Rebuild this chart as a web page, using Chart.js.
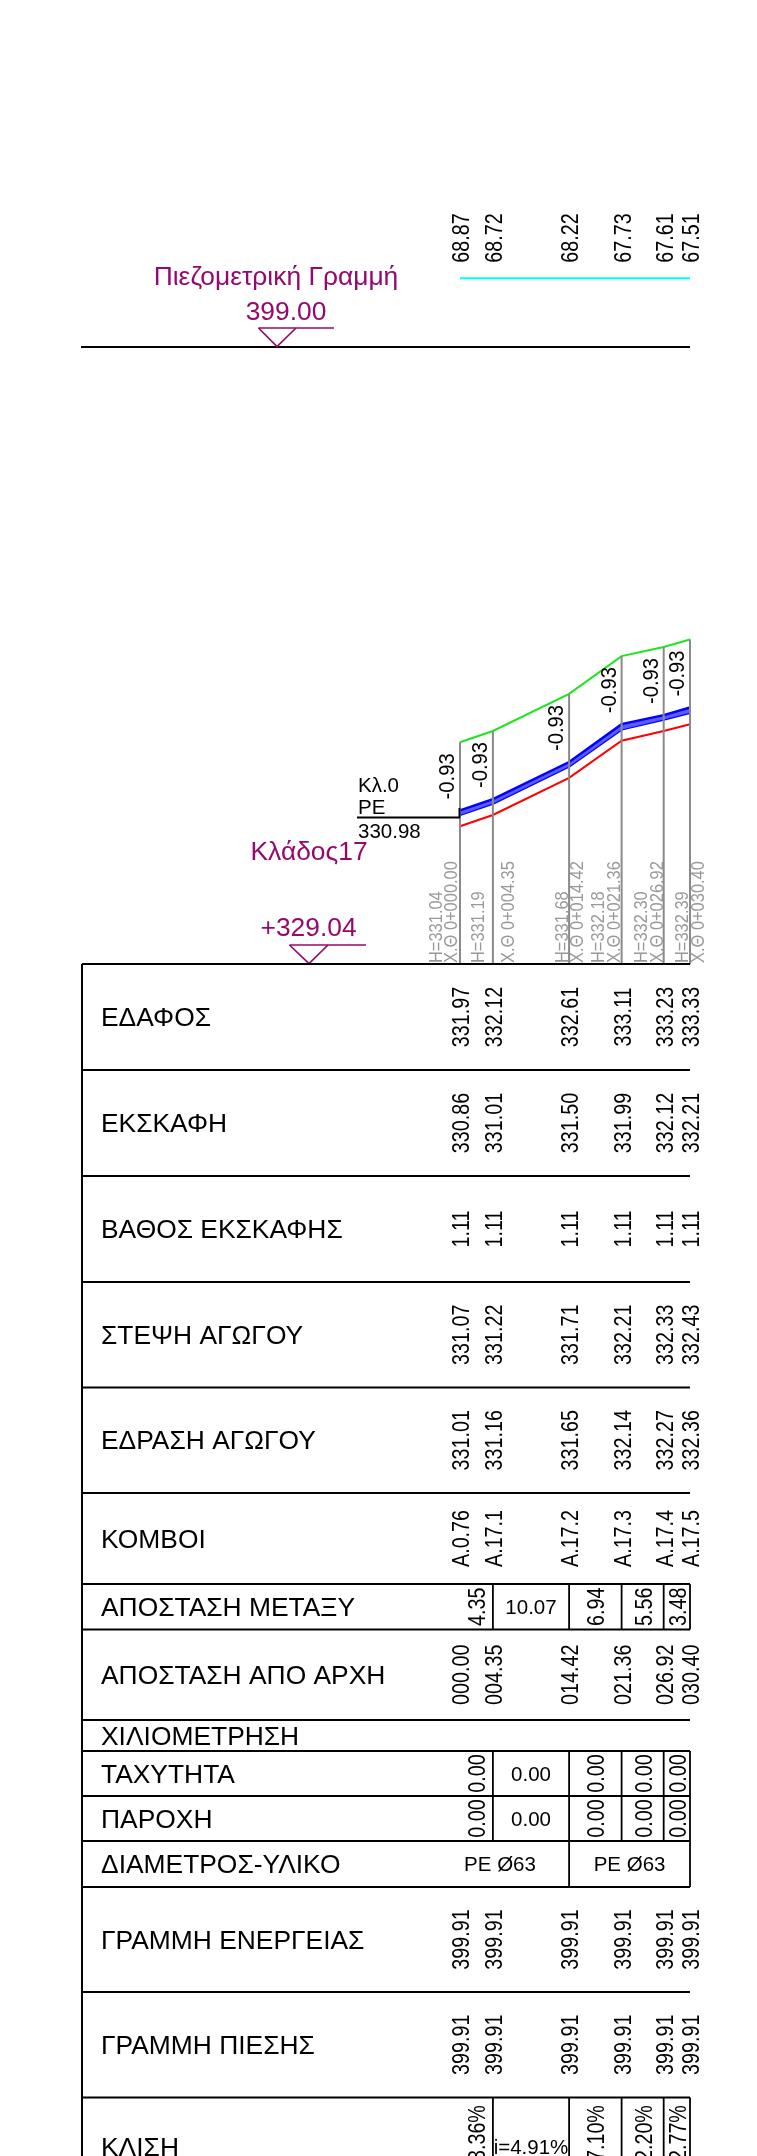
<!DOCTYPE html>
<html>
<head>
<meta charset="utf-8">
<title>Κλάδος17</title>
<script src="https://cdn.jsdelivr.net/npm/chart.js@4"></script>
<style>
  html, body { margin: 0; padding: 0; background: #fff; overflow: hidden; }
  #wrap { position: relative; width: 757px; height: 2156px; }
  canvas { display: block; }
</style>
</head>
<body>
<div id="wrap"><canvas id="profile" width="757" height="2156"></canvas></div>
<script>
// stations along the branch
const chainage = [0, 4.35, 14.42, 21.36, 26.92, 30.4];
const chainageLabels = ["000.00", "004.35", "014.42", "021.36", "026.92", "030.40"];
const stationNames = ["X.Θ 0+000.00", "X.Θ 0+004.35", "X.Θ 0+014.42", "X.Θ 0+021.36", "X.Θ 0+026.92", "X.Θ 0+030.40"];
const nodeLabels = ["A.0.76", "A.17.1", "A.17.2", "A.17.3", "A.17.4", "A.17.5"];

// levels (m)
const groundLevel = [331.97, 332.12, 332.61, 333.11, 333.23, 333.33];
const trenchLevel = [330.86, 331.01, 331.5, 331.99, 332.12, 332.21];
const pipeCrown = [331.07, 331.22, 331.71, 332.21, 332.33, 332.43];
const pipeBed = [331.01, 331.16, 331.65, 332.14, 332.27, 332.36];
const pipeAxis = ["331.04", "331.19", "331.68", "332.18", "332.30", "332.39"];
const trenchDepth = ["1.11", "1.11", "1.11", "1.11", "1.11", "1.11"];
const coverLabels = ["-0.93", "-0.93", "-0.93", "-0.93", "-0.93", "-0.93"];
const energyLine = [399.91, 399.91, 399.91, 399.91, 399.91, 399.91];
const pressureLine = [399.91, 399.91, 399.91, 399.91, 399.91, 399.91];
const pressureHead = ["68.87", "68.72", "68.22", "67.73", "67.61", "67.51"];

// values per pipe segment
const segmentLength = ["4.35", "10.07", "6.94", "5.56", "3.48"];
const segmentVelocity = ["0.00", "0.00", "0.00", "0.00", "0.00"];
const segmentFlow = ["0.00", "0.00", "0.00", "0.00", "0.00"];
const segmentSlope = ["i=3.36%", "i=4.91%", "i=7.10%", "i=2.20%", "i=2.77%"];
const pipeType = ["PE Ø63", "PE Ø63"];

const datumProfile = 329.04;
const datumPiezo = 399.0;

// drawing layout, in page pixels
const W = 757, H = 2156;
const xPerMetre = 7.566, yPerMetre = 75.66;
const x0 = 460, yProfile = 964, yPiezo = 347;
const left = 82;
const magenta = "#96086e";
const gray = "#999999";
const font = '"Liberation Sans", Arial, sans-serif';
const labelSize = 26.4;
const valueShift = 9; // rotated value baseline, right of its station

// [label, top, bottom, kind]
const rows = [
  ["ΕΔΑΦΟΣ", 964, 1070, "station", groundLevel.map((v) => v.toFixed(2))],
  ["ΕΚΣΚΑΦΗ", 1070, 1176, "station", trenchLevel.map((v) => v.toFixed(2))],
  ["ΒΑΘΟΣ ΕΚΣΚΑΦΗΣ", 1176, 1282, "station", trenchDepth],
  ["ΣΤΕΨΗ ΑΓΩΓΟΥ", 1282, 1387.5, "station", pipeCrown.map((v) => v.toFixed(2))],
  ["ΕΔΡΑΣΗ ΑΓΩΓΟΥ", 1387.5, 1493, "station", pipeBed.map((v) => v.toFixed(2))],
  ["ΚΟΜΒΟΙ", 1493, 1584, "station", nodeLabels],
  ["ΑΠΟΣΤΑΣΗ ΜΕΤΑΞΥ", 1584, 1629.5, "segment", segmentLength],
  ["ΑΠΟΣΤΑΣΗ ΑΠΟ ΑΡΧΗ", 1629.5, 1720, "station", chainageLabels],
  ["ΧΙΛΙΟΜΕΤΡΗΣΗ", 1720, 1751, "plain", []],
  ["ΤΑΧΥΤΗΤΑ", 1751, 1796, "segment", segmentVelocity],
  ["ΠΑΡΟΧΗ", 1796, 1841, "segment", segmentFlow],
  ["ΔΙΑΜΕΤΡΟΣ-ΥΛΙΚΟ", 1841, 1887, "pipe", pipeType],
  ["ΓΡΑΜΜΗ ΕΝΕΡΓΕΙΑΣ", 1887, 1992, "station", energyLine.map((v) => v.toFixed(2))],
  ["ΓΡΑΜΜΗ ΠΙΕΣΗΣ", 1992, 2097.5, "station", pressureLine.map((v) => v.toFixed(2))],
  ["ΚΛΙΣΗ", 2097.5, 2203, "segment", segmentSlope],
];

// baseline of the grey labels relative to each station line
const axisOffset = [-18.3, -9.4, -1.3, -17.4, -17, -1.7];
const nameOffset = [-3.3, 21.3, 14, -1.7, -1, 14];

function pts(values) {
  return values.map((v, i) => ({ x: chainage[i], y: v }));
}

function stationLines() {
  // one gap-separated stretch per station
  const out = [];
  chainage.forEach((c, i) => {
    out.push({ x: c, y: datumProfile }, { x: c, y: groundLevel[i] }, { x: c, y: NaN });
  });
  return out;
}

function text(ctx, str, x, y, size, color, align) {
  ctx.save();
  ctx.font = size + "px " + font;
  ctx.fillStyle = color || "#000";
  ctx.textAlign = align || "left";
  ctx.textBaseline = "alphabetic";
  ctx.fillText(str, x, y);
  ctx.restore();
}

// vertical text; the drawing's rotated values are taller than they are long
function vtext(ctx, str, x, y, size, color, align, stretch) {
  ctx.save();
  ctx.translate(x, y);
  ctx.rotate(-Math.PI / 2);
  ctx.scale(0.985, stretch);
  ctx.font = size + "px " + font;
  ctx.fillStyle = color || "#000";
  ctx.textAlign = align || "center";
  ctx.textBaseline = "alphabetic";
  ctx.fillText(str, 0, 0);
  ctx.restore();
}

function stroke(ctx, coords, color, width) {
  ctx.save();
  ctx.beginPath();
  ctx.strokeStyle = color || "#000";
  ctx.lineWidth = width || 1.8;
  coords.forEach((p, i) => (i ? ctx.lineTo(p[0], p[1]) : ctx.moveTo(p[0], p[1])));
  ctx.stroke();
  ctx.restore();
}

const drawingPlugin = {
  id: "drawing",
  afterDatasetsDraw(chart) {
    const ctx = chart.ctx;
    const sx = (c) => chart.scales.x.getPixelForValue(c);
    const sy = (v) => chart.scales.y.getPixelForValue(v);
    const right = sx(chainage[5]);

    // piezometric block
    stroke(ctx, [[81, yPiezo], [right, yPiezo]], "#000", 2);
    text(ctx, "Πιεζομετρική Γραμμή", 276, 285, 26.4, magenta, "center");
    text(ctx, "399.00", 286, 320, 26.4, magenta, "center");
    stroke(ctx, [[258.5, 328], [277, yPiezo - 0.5], [296, 328]], magenta, 1.7);
    stroke(ctx, [[258.5, 328], [334, 328]], magenta, 1.7);
    pressureHead.forEach((t, i) => vtext(ctx, t, sx(chainage[i]) + valueShift, 238, 20, "#000", "center", 1.15));

    // profile annotations
    text(ctx, "Κλ.0", 358, 792, 20.5);
    text(ctx, "PE", 358, 814, 20.5);
    text(ctx, "330.98", 358, 837.5, 20.5);
    stroke(ctx, [[357, 817.5], [x0, 817.5]], "#000", 2);
    stroke(ctx, [[x0 - 0.5, 808], [x0 - 0.5, 817.5]], "#000", 2);
    text(ctx, "Κλάδος17", 250.5, 859.5, 26.4, magenta);
    text(ctx, "+329.04", 260.5, 936, 26.4, magenta);
    stroke(ctx, [[289.5, 945], [309, 963.5], [328, 945]], magenta, 1.7);
    stroke(ctx, [[289.5, 945], [366, 945]], magenta, 1.7);

    chainage.forEach((c, i) => {
      const px = sx(c);
      vtext(ctx, "H=" + pipeAxis[i], px + axisOffset[i], 963, 16.7, gray, "left", 1.08);
      vtext(ctx, stationNames[i], px + nameOffset[i], 963, 16.7, gray, "left", 1.08);
      vtext(ctx, coverLabels[i], px - 6, sy(pipeCrown[i]) - 11, 20.5, "#000", "left", 1.1);
    });

    // table
    stroke(ctx, [[left, yProfile], [left, H]], "#000", 2);
    stroke(ctx, [[left, yProfile], [right, yProfile]], "#000", 2);
    rows.forEach((r) => {
      const [label, top, bottom, kind, values] = r;
      const mid = (top + bottom) / 2;
      if (bottom < H) stroke(ctx, [[left, bottom], [right, bottom]]);
      let base = mid + 9;
      if (label === "ΧΙΛΙΟΜΕΤΡΗΣΗ") base = 1745;
      if (label === "ΚΛΙΣΗ") base = 2156;
      text(ctx, label, 101, base, labelSize);

      if (kind === "station") {
        values.forEach((t, i) => vtext(ctx, t, sx(chainage[i]) + valueShift, mid, 20, "#000", "center", 1.15));
      }
      if (kind === "segment") {
        const textMid = label === "ΚΛΙΣΗ" ? 2141 : mid;
        values.forEach((t, i) => {
          const a = sx(chainage[i]), b = sx(chainage[i + 1]);
          const cx = (a + b) / 2;
          stroke(ctx, [[b, top], [b, Math.min(bottom, H)]]);
          if (i === 1) text(ctx, t, cx, label === "ΚΛΙΣΗ" ? 2154 : textMid + 7, 20.5, "#000", "center");
          else vtext(ctx, t, cx + valueShift, textMid, 20, "#000", "center", 1.15);
        });
      }
      if (kind === "pipe") {
        const m = sx(chainage[2]);
        stroke(ctx, [[m, top], [m, bottom]]);
        stroke(ctx, [[right, top], [right, bottom]]);
        text(ctx, values[0], 500, mid + 7, 20.5, "#000", "center");
        text(ctx, values[1], (m + right) / 2, mid + 7, 20.5, "#000", "center");
      }
    });
  },
};

new Chart(document.getElementById("profile"), {
  type: "scatter",
  data: {
    datasets: [
      {
        label: "stations",
        data: stationLines(),
        showLine: true,
        spanGaps: false,
        borderColor: "#8a8a8a",
        borderWidth: 2,
      },
      {
        label: "ground",
        data: pts(groundLevel),
        showLine: true,
        borderColor: "#1ee61e",
        borderWidth: 2,
      },
      {
        label: "trench",
        data: pts(trenchLevel),
        showLine: true,
        borderColor: "#ff0000",
        borderWidth: 2,
      },
      {
        label: "crown",
        data: pts(pipeCrown),
        showLine: true,
        borderColor: "#0000ff",
        borderWidth: 2.4,
        fill: "+1",
        backgroundColor: "#5a5aff",
      },
      {
        label: "bed",
        data: pts(pipeBed),
        showLine: true,
        borderColor: "#0000ff",
        borderWidth: 2.4,
      },
      {
        label: "piezometric",
        data: pts(pressureLine),
        yAxisID: "yPiezo",
        showLine: true,
        borderColor: "#00ffff",
        borderWidth: 2,
      },
    ],
  },
  options: {
    responsive: false,
    animation: false,
    elements: { point: { radius: 0 } },
    layout: { padding: 0 },
    plugins: { legend: { display: false }, tooltip: { enabled: false } },
    scales: {
      x: {
        type: "linear",
        display: false,
        min: -x0 / xPerMetre,
        max: (W - x0) / xPerMetre,
      },
      y: {
        display: false,
        min: datumProfile - (H - yProfile) / yPerMetre,
        max: datumProfile + yProfile / yPerMetre,
      },
      yPiezo: {
        display: false,
        min: datumPiezo - (H - yPiezo) / yPerMetre,
        max: datumPiezo + yPiezo / yPerMetre,
      },
    },
  },
  plugins: [drawingPlugin],
});
</script>
</body>
</html>
